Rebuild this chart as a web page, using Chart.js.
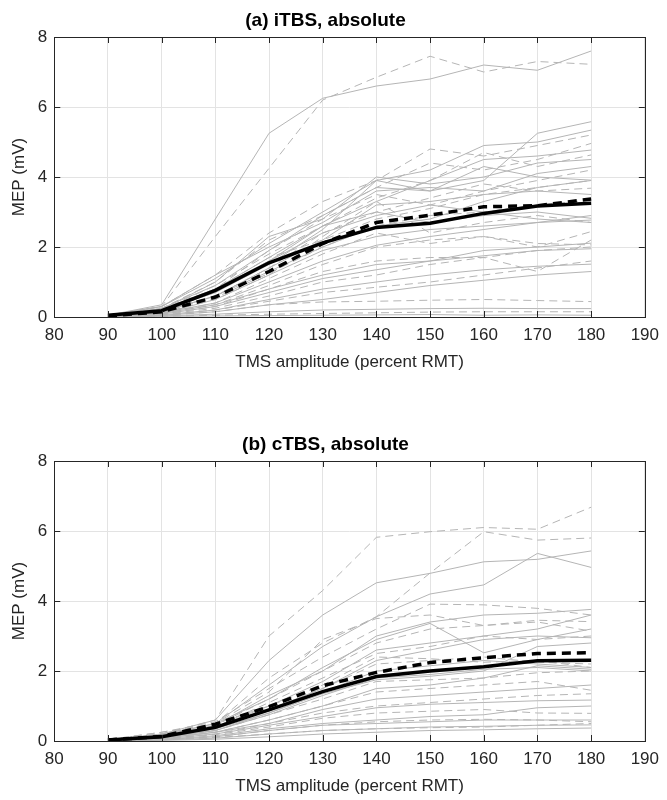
<!DOCTYPE html>
<html>
<head>
<meta charset="utf-8">
<script src="https://cdn.jsdelivr.net/npm/chart.js@4"></script>
<style>
  body { margin: 0; background: #fff; width: 667px; height: 800px; position: relative; overflow: hidden; }
  .panel { position: absolute; left: 0; width: 667px; }
</style>
</head>
<body>
<div class="panel" style="top:0;height:400px"><canvas id="chartA"></canvas></div>
<div class="panel" style="top:424px;height:376px"><canvas id="chartB"></canvas></div>
<script>
// --- data (MEP in mV at each TMS amplitude) ---
const amplitudes = [90, 100, 110, 120, 130, 140, 150, 160, 170, 180];
const xTicks = [80, 90, 100, 110, 120, 130, 140, 150, 160, 170, 180, 190];
const yTicks = [0, 2, 4, 6, 8];

// (a) iTBS
const meanA_solid  = [0.05, 0.18, 0.76, 1.55, 2.12, 2.56, 2.68, 2.96, 3.17, 3.25];
const meanA_dashed = [0.03, 0.15, 0.57, 1.30, 2.10, 2.70, 2.91, 3.15, 3.18, 3.37];
const subjectsA_solid = [
  [0.05, 0.35, 2.8, 5.25, 6.25, 6.6, 6.8, 7.2, 7.05, 7.6],
  [0.04, 0.25, 0.9, 1.9, 2.9, 3.7, 3.6, 3.9, 5.25, 5.58],
  [0.05, 0.3, 1.1, 2.1, 3.0, 3.9, 4.2, 4.9, 5.0, 5.34],
  [0.03, 0.2, 0.8, 1.6, 2.6, 3.3, 3.9, 4.5, 4.6, 4.77],
  [0.04, 0.22, 1.0, 2.3, 2.8, 4.0, 3.8, 4.0, 4.4, 4.5],
  [0.05, 0.3, 1.2, 2.0, 2.7, 3.6, 3.7, 3.6, 4.1, 4.3],
  [0.03, 0.2, 0.7, 1.5, 2.5, 3.9, 3.6, 4.3, 4.0, 3.91],
  [0.02, 0.15, 0.6, 1.4, 2.2, 3.2, 3.3, 3.5, 3.6, 3.5],
  [0.03, 0.2, 0.8, 1.7, 2.6, 3.0, 2.7, 2.9, 3.0, 2.82],
  [0.02, 0.1, 0.5, 1.2, 1.9, 2.3, 2.5, 2.6, 2.7, 2.77],
  [0.02, 0.12, 0.4, 1.0, 1.6, 2.05, 2.3, 2.5, 2.7, 2.9],
  [0.02, 0.1, 0.35, 0.8, 1.2, 1.5, 1.6, 1.9, 2.0, 2.11],
  [0.01, 0.08, 0.3, 0.7, 1.1, 1.35, 1.6, 1.75, 1.9, 1.95],
  [0.01, 0.06, 0.2, 0.5, 0.8, 1.0, 1.2, 1.35, 1.45, 1.51],
  [0.01, 0.05, 0.15, 0.35, 0.5, 0.7, 0.9, 1.05, 1.2, 1.3],
  [0.01, 0.03, 0.08, 0.15, 0.2, 0.22, 0.24, 0.25, 0.24, 0.24],
  [0.01, 0.02, 0.03, 0.04, 0.05, 0.06, 0.07, 0.05, 0.06, 0.05],
  [0.03, 0.18, 0.7, 1.6, 2.4, 2.9, 3.2, 3.0, 2.8, 2.7],
  [0.02, 0.15, 0.6, 1.3, 2.0, 2.6, 2.8, 3.3, 3.7, 3.9]
];
const subjectsA_dashed = [
  [0.04, 0.3, 2.3, 4.25, 6.2, 6.85, 7.45, 7.0, 7.3, 7.22],
  [0.04, 0.3, 1.2, 2.4, 3.3, 3.9, 4.8, 4.6, 4.9, 5.2],
  [0.03, 0.25, 1.0, 2.2, 2.9, 3.7, 4.4, 4.2, 4.5, 4.96],
  [0.03, 0.2, 0.9, 1.8, 2.6, 3.4, 3.9, 4.7, 4.3, 4.63],
  [0.03, 0.22, 0.8, 1.9, 2.8, 3.5, 3.2, 3.6, 3.9, 4.2],
  [0.02, 0.15, 0.6, 1.4, 2.4, 3.0, 3.4, 3.8, 3.6, 3.68],
  [0.02, 0.12, 0.5, 1.2, 2.3, 3.3, 2.4, 2.7, 2.9, 2.7],
  [0.02, 0.1, 0.4, 1.1, 1.8, 2.4, 2.1, 2.3, 2.0, 2.44],
  [0.02, 0.1, 0.35, 0.9, 1.5, 2.0, 2.2, 2.3, 2.1, 2.06],
  [0.01, 0.08, 0.3, 0.8, 1.3, 1.6, 1.7, 1.7, 1.3, 2.2],
  [0.01, 0.07, 0.25, 0.6, 1.0, 1.2, 1.5, 1.7, 1.9, 2.0],
  [0.01, 0.05, 0.2, 0.45, 0.7, 0.85, 1.0, 1.2, 1.4, 1.6],
  [0.01, 0.04, 0.15, 0.35, 0.43, 0.45, 0.48, 0.5, 0.47, 0.44],
  [0.01, 0.02, 0.05, 0.08, 0.1, 0.12, 0.14, 0.15, 0.15, 0.15],
  [0.02, 0.15, 0.55, 1.25, 2.0, 2.6, 2.9, 3.0, 3.2, 3.34],
  [0.03, 0.2, 0.8, 1.7, 2.2, 2.8, 3.1, 3.5, 3.7, 3.9]
];

// (b) cTBS
const meanB_solid  = [0.03, 0.12, 0.39, 0.89, 1.41, 1.84, 2.00, 2.12, 2.29, 2.31];
const meanB_dashed = [0.03, 0.13, 0.48, 0.98, 1.58, 1.96, 2.24, 2.38, 2.50, 2.52];
const subjectsB_solid = [
  [0.04, 0.2, 0.6, 2.3, 3.6, 4.52, 4.79, 5.12, 5.19, 5.43],
  [0.04, 0.18, 0.5, 1.6, 2.7, 3.55, 4.2, 4.46, 5.36, 4.96],
  [0.03, 0.15, 0.45, 1.3, 2.0, 3.0, 3.4, 3.6, 3.65, 3.76],
  [0.03, 0.15, 0.5, 1.2, 2.1, 2.9, 3.36, 2.52, 2.9, 3.2],
  [0.03, 0.12, 0.4, 1.0, 1.7, 2.6, 2.8, 3.0, 3.2, 3.6],
  [0.03, 0.12, 0.35, 0.9, 1.5, 2.3, 2.6, 2.9, 3.0, 2.95],
  [0.02, 0.1, 0.35, 0.8, 1.4, 2.0, 2.15, 2.3, 2.2, 2.1],
  [0.02, 0.1, 0.3, 0.75, 1.3, 1.8, 1.9, 2.05, 2.1, 2.0],
  [0.02, 0.08, 0.25, 0.6, 1.0, 1.5, 1.6, 1.8, 2.15, 2.05],
  [0.02, 0.08, 0.25, 0.5, 0.9, 1.2, 1.3, 1.4, 1.5, 1.6],
  [0.01, 0.06, 0.2, 0.45, 0.7, 0.95, 1.05, 1.1, 1.15, 1.17],
  [0.01, 0.05, 0.15, 0.35, 0.5, 0.6, 0.7, 0.75, 0.95, 1.0],
  [0.01, 0.04, 0.12, 0.3, 0.45, 0.5, 0.55, 0.6, 0.6, 0.6],
  [0.01, 0.03, 0.08, 0.2, 0.3, 0.35, 0.4, 0.42, 0.45, 0.46],
  [0.01, 0.02, 0.05, 0.12, 0.2, 0.25, 0.3, 0.32, 0.35, 0.37],
  [0.02, 0.1, 0.3, 0.8, 1.35, 1.75, 1.85, 2.0, 2.7, 2.8]
];
const subjectsB_dashed = [
  [0.05, 0.2, 0.6, 3.0, 4.3, 5.82, 5.98, 6.1, 6.05, 6.68],
  [0.04, 0.2, 0.5, 1.8, 2.8, 3.55, 4.8, 5.98, 5.74, 5.8],
  [0.04, 0.25, 0.55, 1.5, 2.4, 3.2, 3.91, 3.89, 3.79, 3.6],
  [0.03, 0.2, 0.5, 1.4, 2.9, 3.5, 3.6, 3.3, 3.45, 3.41],
  [0.03, 0.18, 0.45, 1.2, 2.0, 2.8, 3.2, 3.3, 3.4, 3.14],
  [0.03, 0.15, 0.4, 1.1, 1.8, 2.5, 2.7, 3.0, 2.9, 3.0],
  [0.02, 0.12, 0.35, 0.9, 1.5, 2.2, 2.3, 2.4, 2.25, 2.2],
  [0.02, 0.1, 0.3, 0.75, 1.2, 1.7, 1.75, 1.8, 1.95, 2.0],
  [0.02, 0.08, 0.25, 0.6, 1.0, 1.4, 1.5, 1.6, 1.7, 1.45],
  [0.01, 0.07, 0.2, 0.5, 0.8, 1.0, 1.1, 1.2, 1.3, 1.35],
  [0.01, 0.06, 0.18, 0.4, 0.65, 0.8, 0.85, 0.9, 0.8, 0.79],
  [0.01, 0.05, 0.12, 0.3, 0.45, 0.55, 0.6, 0.62, 0.6, 0.55],
  [0.01, 0.04, 0.1, 0.2, 0.3, 0.35, 0.38, 0.4, 0.45, 0.5],
  [0.04, 0.25, 0.5, 1.0, 1.6, 2.4, 2.35, 2.25, 2.3, 2.1]
];

// --- styling ---
const FONT = '"Liberation Sans", Arial, Helvetica, sans-serif';
const AXIS_COLOR = '#262626';
const GRID_COLOR = '#e3e3e3';
const SUBJECT_COLOR = '#b5b5b5';

function toPoints(values) {
  return values.map((v, i) => ({ x: amplitudes[i], y: v }));
}

function buildDatasets(meanSolid, meanDashed, solidRows, dashedRows) {
  const sets = [
    { data: toPoints(meanSolid), borderColor: '#000', borderWidth: 3.5 },
    { data: toPoints(meanDashed), borderColor: '#000', borderWidth: 3.5, borderDash: [9, 6] }
  ];
  solidRows.forEach(r => sets.push({ data: toPoints(r), borderColor: SUBJECT_COLOR, borderWidth: 1 }));
  dashedRows.forEach(r => sets.push({ data: toPoints(r), borderColor: SUBJECT_COLOR, borderWidth: 1, borderDash: [8, 5] }));
  return sets;
}

// MATLAB-style box with inward ticks on all four sides
const boxTicks = {
  id: 'boxTicks',
  afterDraw(chart) {
    const { ctx, chartArea: a, scales: { x, y } } = chart;
    const len = 6;
    ctx.save();
    ctx.strokeStyle = AXIS_COLOR;
    ctx.lineWidth = 1;
    ctx.beginPath();
    xTicks.forEach(v => {
      const px = Math.round(x.getPixelForValue(v)) + 0.5;
      ctx.moveTo(px, a.bottom); ctx.lineTo(px, a.bottom - len);
      ctx.moveTo(px, a.top); ctx.lineTo(px, a.top + len);
    });
    yTicks.forEach(v => {
      const py = Math.round(y.getPixelForValue(v)) + 0.5;
      ctx.moveTo(a.left, py); ctx.lineTo(a.left + len, py);
      ctx.moveTo(a.right, py); ctx.lineTo(a.right - len, py);
    });
    ctx.stroke();
    ctx.strokeRect(Math.round(a.left) + 0.5, Math.round(a.top) + 0.5,
                   Math.round(a.right - a.left), Math.round(a.bottom - a.top));
    ctx.restore();
  }
};

function makeChart(id, title, datasets, bottomPad) {
  return new Chart(document.getElementById(id), {
    type: 'line',
    data: { datasets },
    plugins: [boxTicks],
    options: {
      responsive: true,
      maintainAspectRatio: false,
      animation: false,
      elements: { point: { radius: 0 }, line: { tension: 0, borderCapStyle: 'butt' } },
      layout: { padding: { left: 0, right: 16, top: 0, bottom: bottomPad } },
      plugins: {
        legend: { display: false },
        tooltip: { enabled: false },
        title: {
          display: true,
          text: title,
          color: '#000',
          font: { family: FONT, size: 19, weight: 'bold' },
          padding: { top: 9.6, bottom: 4.6 }
        }
      },
      scales: {
        x: {
          type: 'linear',
          min: 80, max: 190,
          afterBuildTicks: s => { s.ticks = xTicks.map(v => ({ value: v })); },
          afterFit: s => { s.height = 55.2; },
          grid: { color: GRID_COLOR, drawTicks: false },
          border: { display: false },
          ticks: { color: AXIS_COLOR, padding: 8, font: { family: FONT, size: 17 }, maxRotation: 0 },
          title: {
            display: true,
            text: 'TMS amplitude (percent RMT)',
            color: AXIS_COLOR,
            font: { family: FONT, size: 17 },
            padding: { top: 0, bottom: 0 }
          }
        },
        y: {
          min: 0, max: 8,
          afterBuildTicks: s => { s.ticks = yTicks.map(v => ({ value: v })); },
          afterFit: s => { s.width = 54.3; },
          grid: { color: GRID_COLOR, drawTicks: false },
          border: { display: false },
          ticks: { color: AXIS_COLOR, padding: 7, font: { family: FONT, size: 17 } },
          title: {
            display: true,
            text: 'MEP (mV)',
            color: AXIS_COLOR,
            font: { family: FONT, size: 17 },
            padding: { top: 9.5, bottom: 0 }
          }
        }
      }
    }
  });
}

makeChart('chartA', '(a) iTBS, absolute',
  buildDatasets(meanA_solid, meanA_dashed, subjectsA_solid, subjectsA_dashed), 27.8);
makeChart('chartB', '(b) cTBS, absolute',
  buildDatasets(meanB_solid, meanB_dashed, subjectsB_solid, subjectsB_dashed), 3.8);
</script>
</body>
</html>
